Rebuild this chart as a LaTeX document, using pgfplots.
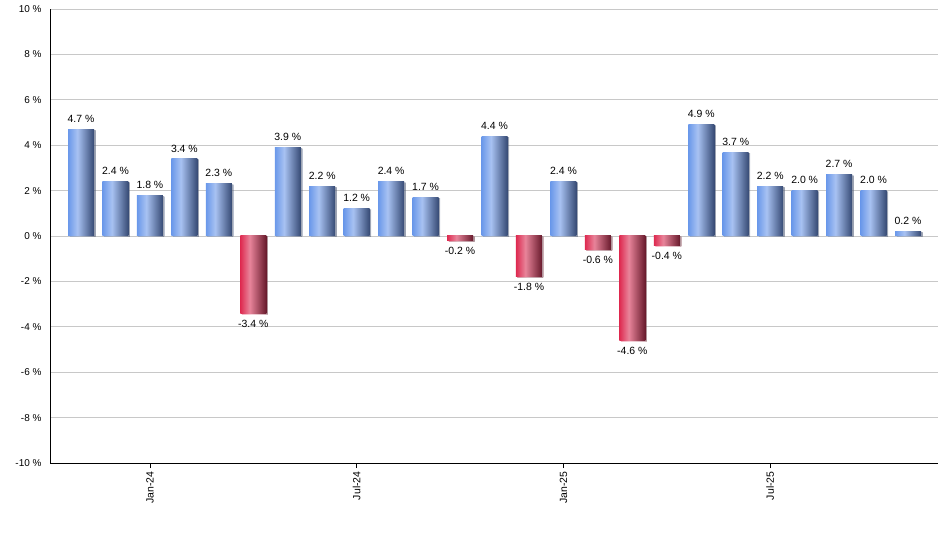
\documentclass[border=0pt]{standalone}
\usepackage{fontspec}
\setmainfont{Liberation Sans}
\usepackage{pgfplots}
\pgfplotsset{compat=1.18}
\usetikzlibrary{shadows}

\definecolor{bl1}{HTML}{6A98EA}
\definecolor{bl2}{HTML}{A8C2F2}
\definecolor{bl3}{HTML}{364A74}
\definecolor{rd1}{HTML}{DE2A50}
\definecolor{rd2}{HTML}{E8849A}
\definecolor{rd3}{HTML}{681A2C}
\definecolor{gridc}{HTML}{C8C8C8}
% tikz maps the bar onto 25bp..75bp of the shading
\pgfdeclarehorizontalshading{bluebar}{100bp}{color(0bp)=(bl1); color(25bp)=(bl1); color(43bp)=(bl2); color(75bp)=(bl3); color(100bp)=(bl3)}
\pgfdeclarehorizontalshading{redbar}{100bp}{color(0bp)=(rd1); color(25bp)=(rd1); color(43bp)=(rd2); color(75bp)=(rd3); color(100bp)=(rd3)}

\pgfplotsset{
    barbase/.style={ybar, bar width=26bp, bar shift=0pt, draw=none,
        drop shadow={shadow xshift=1.5bp, shadow yshift=-1bp, opacity=0.35, fill=gray}},
    up/.style={barbase, shading=bluebar},
    down/.style={barbase, shading=redbar},
}

\begin{document}
\begin{tikzpicture}
\begin{axis}[
    at={(0,0)}, anchor=south west,
    scale only axis,
    width=888bp, height=454bp,
    xmin=-0.9, xmax=24.87,
    ymin=-10, ymax=10,
    axis lines=left,
    axis line style={-, black},
    ymajorgrids,
    grid style={gridc, line width=0.8pt},
    ytick={-10,-8,...,10},
    yticklabel={\pgfmathprintnumber{\tick}~\%},
    ytick style={draw=none},
    xtick={2,8,14,20},
    xticklabels={Jan-24,Jul-24,Jan-25,Jul-25},
    x tick label style={rotate=90, anchor=east, font=\fontsize{10.5}{12}\selectfont},
    y tick label style={font=\fontsize{10}{12}\selectfont},
    xtick style={black, line width=0.8pt},
    tick align=outside,
    major tick length=5bp,
    /pgf/number format/assume math mode=true,
    ybar, bar width=26bp, bar shift=0pt,
    nodes near coords={\pgfmathprintnumber[fixed,fixed zerofill,precision=1]{\pgfplotspointmeta}~\%},
    every node near coord/.append style={font=\fontsize{10.5}{12}\selectfont, black, inner sep=6.5bp},
    clip=false,
]
% one plot per month, so that each bar gets its own shading
\addplot[up]   coordinates {(0,4.7)};
\addplot[up]   coordinates {(1,2.4)};
\addplot[up]   coordinates {(2,1.8)};
\addplot[up]   coordinates {(3,3.4)};
\addplot[up]   coordinates {(4,2.3)};
\addplot[down] coordinates {(5,-3.4)};
\addplot[up]   coordinates {(6,3.9)};
\addplot[up]   coordinates {(7,2.2)};
\addplot[up]   coordinates {(8,1.2)};
\addplot[up]   coordinates {(9,2.4)};
\addplot[up]   coordinates {(10,1.7)};
\addplot[down] coordinates {(11,-0.2)};
\addplot[up]   coordinates {(12,4.4)};
\addplot[down] coordinates {(13,-1.8)};
\addplot[up]   coordinates {(14,2.4)};
\addplot[down] coordinates {(15,-0.6)};
\addplot[down] coordinates {(16,-4.6)};
\addplot[down] coordinates {(17,-0.4)};
\addplot[up]   coordinates {(18,4.9)};
\addplot[up]   coordinates {(19,3.7)};
\addplot[up]   coordinates {(20,2.2)};
\addplot[up]   coordinates {(21,2.0)};
\addplot[up]   coordinates {(22,2.7)};
\addplot[up]   coordinates {(23,2.0)};
\addplot[up]   coordinates {(24,0.2)};
\end{axis}
\pgfresetboundingbox
\useasboundingbox (-50bp,-87bp) rectangle (890bp,463bp);
\end{tikzpicture}
\end{document}
